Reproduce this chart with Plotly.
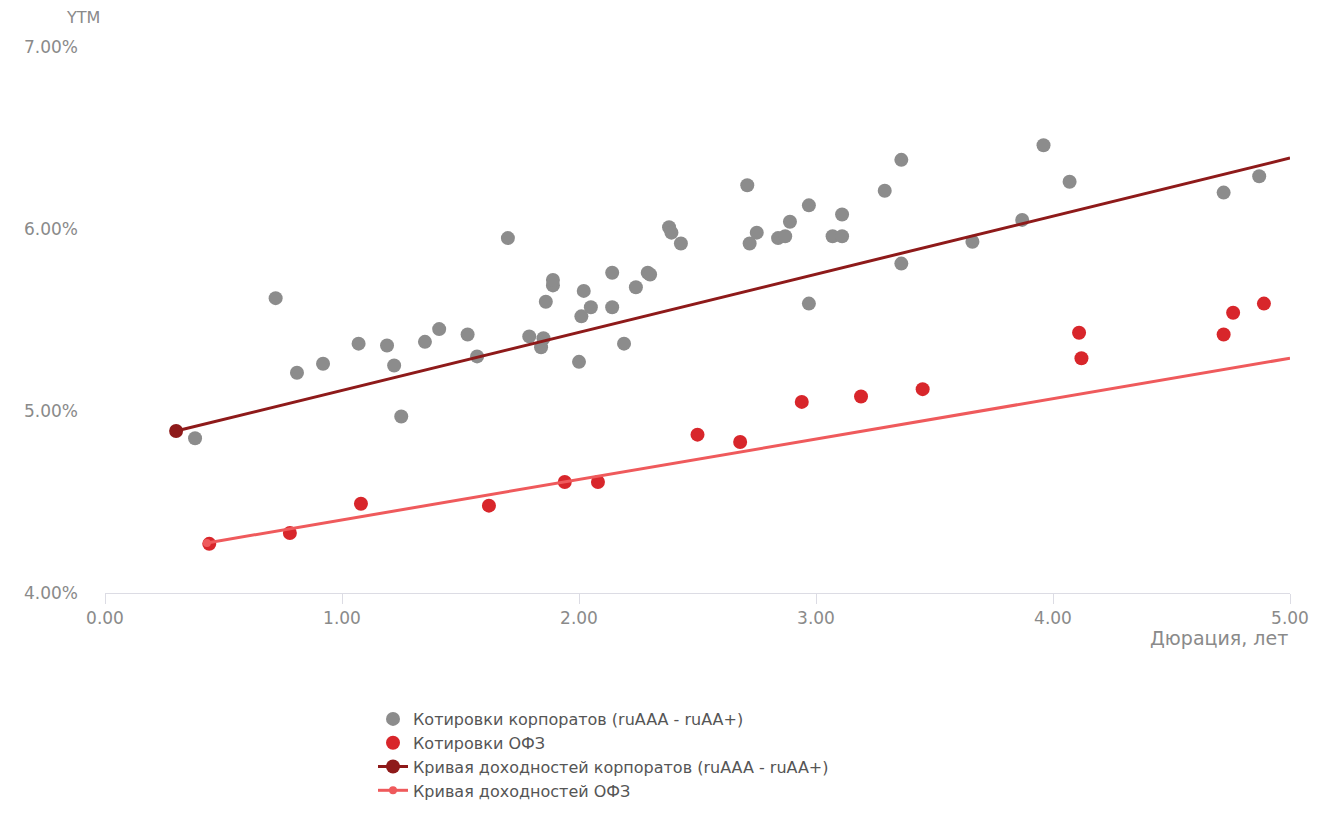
import plotly.graph_objects as go

corp_x = [0.38, 0.72, 0.81, 0.92, 1.07, 1.19, 1.22, 1.25, 1.35, 1.41, 1.53, 1.57,
          1.70, 1.79, 1.85, 1.84, 1.86, 1.89, 1.89, 2.00, 2.02, 2.05, 2.01, 2.14,
          2.14, 2.19, 2.24, 2.29, 2.30, 2.38, 2.39, 2.43, 2.71, 2.72, 2.75, 2.84,
          2.87, 2.89, 2.97, 2.97, 3.07, 3.11, 3.11, 3.29, 3.36, 3.36, 3.66, 3.87,
          3.96, 4.07, 4.72, 4.87]
corp_y = [4.85, 5.62, 5.21, 5.26, 5.37, 5.36, 5.25, 4.97, 5.38, 5.45, 5.42, 5.30,
          5.95, 5.41, 5.40, 5.35, 5.60, 5.69, 5.72, 5.27, 5.66, 5.57, 5.52, 5.76,
          5.57, 5.37, 5.68, 5.76, 5.75, 6.01, 5.98, 5.92, 6.24, 5.92, 5.98, 5.95,
          5.96, 6.04, 6.13, 5.59, 5.96, 6.08, 5.96, 6.21, 6.38, 5.81, 5.93, 6.05,
          6.46, 6.26, 6.20, 6.29]

ofz_x = [0.44, 0.78, 1.08, 1.62, 1.94, 2.08, 2.50, 2.68, 2.94, 3.19, 3.45,
         4.11, 4.12, 4.72, 4.76, 4.89]
ofz_y = [4.27, 4.33, 4.49, 4.48, 4.61, 4.61, 4.87, 4.83, 5.05, 5.08, 5.12,
         5.43, 5.29, 5.42, 5.54, 5.59]

corp_curve_x = [0.30, 5.00]
corp_curve_y = [4.89, 6.39]
ofz_curve_x = [0.43, 5.00]
ofz_curve_y = [4.275, 5.29]

x_ticks = [0, 1, 2, 3, 4, 5]
x_labels = ["0.00", "1.00", "2.00", "3.00", "4.00", "5.00"]
y_ticks = [4, 5, 6, 7]
y_labels = ["4.00%", "5.00%", "6.00%", "7.00%"]

FONT = "DejaVu Sans"
GREY = "#8c8c8c"
RED = "#d8262b"
DARK = "#8e1a1a"
LIGHT = "#ef5a5c"
TXT = "#8a8a8a"
CLEAR = "rgba(0,0,0,0)"

fig = go.Figure()
fig.add_trace(go.Scatter(x=corp_x, y=corp_y, mode="markers",
                         name="Котировки корпоратов (ruAAA - ruAA+)",
                         marker=dict(color=GREY, size=14)))
fig.add_trace(go.Scatter(x=ofz_x, y=ofz_y, mode="markers",
                         name="Котировки ОФЗ",
                         marker=dict(color=RED, size=14)))
fig.add_trace(go.Scatter(x=corp_curve_x, y=corp_curve_y, mode="lines+markers",
                         name="Кривая доходностей корпоратов (ruAAA - ruAA+)",
                         line=dict(color=DARK, width=3),
                         marker=dict(color=[DARK, CLEAR], size=14)))
fig.add_trace(go.Scatter(x=ofz_curve_x, y=ofz_curve_y, mode="lines+markers",
                         name="Кривая доходностей ОФЗ",
                         line=dict(color=LIGHT, width=3),
                         marker=dict(color=[LIGHT, CLEAR], size=8)))

fig.update_layout(
    width=1332, height=818,
    margin=dict(l=105, r=42, t=47, b=225, autoexpand=False),
    paper_bgcolor="white", plot_bgcolor="white",
    font=dict(family=FONT, size=16, color=TXT),
    showlegend=True,
    legend=dict(xref="container", yref="container",
                x=373 / 1332, y=1 - 702 / 818, xanchor="left", yanchor="top",
                font=dict(family=FONT, size=16, color="#555555"),
                tracegroupgap=0, itemwidth=30),
    xaxis=dict(range=[0, 5], tickvals=x_ticks, ticktext=x_labels,
               showgrid=False, zeroline=False, showline=True,
               linecolor="#dcdce4", linewidth=1, ticks="outside",
               ticklen=10, tickcolor="#dcdce4",
               tickfont=dict(size=17, color=TXT)),
    yaxis=dict(range=[4, 7], tickvals=y_ticks, ticktext=y_labels,
               showgrid=False, zeroline=False, showline=False,
               ticks="", ticklabelstandoff=26,
               tickfont=dict(size=17, color=TXT)),
    annotations=[
        dict(text="YTM", xref="paper", yref="paper", x=(83 - 105) / 1185,
             y=(593 - 18) / 546, xanchor="center", yanchor="middle",
             showarrow=False, font=dict(size=16, color=TXT)),
        dict(text="Дюрация, лет", xref="paper", yref="paper", x=1.0,
             y=(593 - 638) / 546, xanchor="right", yanchor="middle",
             showarrow=False, font=dict(size=19, color=TXT)),
    ],
)

fig.write_html("out.html")
